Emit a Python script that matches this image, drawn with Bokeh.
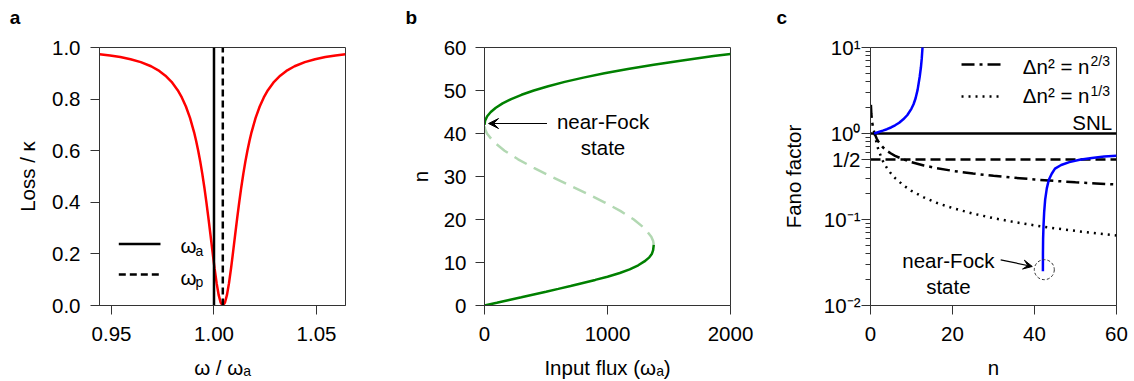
from bokeh.plotting import figure
from bokeh.layouts import row, column
from bokeh.models import Range1d, FixedTicker, Arrow, VeeHead
from bokeh.core.properties import value
from bokeh.embed import file_html
from bokeh.resources import INLINE

FONT = "Liberation Sans"
FS = "20.5px"
AX = "#333333"

# ---------------- panel letters ----------------
panel_letters = ["a", "b", "c"]

# ---------------- panel a data ----------------
omega = [0.94415, 0.9493, 0.9543, 0.9593, 0.9643, 0.9693, 0.9733, 0.9763, 0.9793, 0.9823,
         0.9843, 0.9863, 0.9883, 0.9903, 0.9913, 0.9923, 0.9933, 0.9943, 0.9953, 0.9963,
         0.9973, 0.9983, 0.9993, 1.0003, 1.0013, 1.0023, 1.0033, 1.0043,
         1.0053, 1.0063, 1.0073, 1.0083, 1.0093, 1.0103, 1.0113, 1.0123, 1.0133, 1.0143,
         1.0153, 1.0163, 1.0173, 1.0183, 1.0203, 1.0223, 1.0243, 1.0263, 1.0293, 1.0323,
         1.0353, 1.0393, 1.0443, 1.0493, 1.0543, 1.0593, 1.0641]
loss = [0.9742, 0.9692, 0.9630, 0.9547, 0.9434, 0.9273, 0.9092, 0.8909, 0.8669, 0.8345,
        0.8065, 0.7714, 0.7273, 0.6712, 0.6377, 0.6000, 0.5576, 0.5102, 0.4576, 0.4000,
        0.3379, 0.2727, 0.2066, 0.1429, 0.0857, 0.0400, 0.0103, 0.0,
        0.0103, 0.0400, 0.0857, 0.1429, 0.2066, 0.2727, 0.3379, 0.4000, 0.4576, 0.5102,
        0.5576, 0.6000, 0.6377, 0.6712, 0.7273, 0.7714, 0.8065, 0.8345, 0.8669, 0.8909,
        0.9092, 0.9273, 0.9434, 0.9547, 0.9630, 0.9692, 0.9739]
omega_a = 1.0
omega_p = 1.0043
a_xrange = (0.94415, 1.06415)
a_yrange = (0.0, 1.0)
a_xticks = [0.95, 1.0, 1.05]
a_xlabels = ["0.95", "1.00", "1.05"]
a_yticks = [0.0, 0.2, 0.4, 0.6, 0.8, 1.0]
a_ylabels = ["0.0", "0.2", "0.4", "0.6", "0.8", "1.0"]

# ---------------- panel b data ----------------
lower_flux = [0, 100, 200, 300, 400, 500, 600, 700, 800, 900, 1000, 1100, 1180, 1250,
              1300, 1340, 1360, 1371, 1376]
lower_n = [0, 0.62, 1.26, 1.9, 2.55, 3.2, 3.87, 4.55, 5.25, 5.95, 6.7, 7.55, 8.4, 9.35,
           10.25, 11.2, 11.95, 12.9, 14.1]
middle_flux = [1376, 1371, 1356, 1300, 1214, 1104, 975, 835, 688, 542, 401, 273, 163, 76, 20, 5, 0]
middle_n = [14.1, 15, 16, 18, 20, 22, 24, 26, 28, 30, 32, 34, 36, 38, 40, 41, 42]
upper_flux = [0, 5, 22, 51, 92, 147, 217, 301, 401, 518, 652, 804, 975, 1166, 1376, 1608, 1862, 2000]
upper_n = [42, 43, 44, 45, 46, 47, 48, 49, 50, 51, 52, 53, 54, 55, 56, 57, 58, 58.5]
b_xrange = (0, 2000)
b_yrange = (0, 60)
b_xticks = [0, 1000, 2000]
b_yticks = [0, 10, 20, 30, 40, 50, 60]

# ---------------- panel c data ----------------
n_dd = [0.1, 0.2, 0.4, 0.7, 1, 1.5, 2, 3, 4, 5, 6, 8, 10, 13, 16, 20, 25, 30, 35, 40, 45, 50, 55, 60]
fano_dd = [2.154, 1.710, 1.357, 1.126, 1.0, 0.874, 0.794, 0.693, 0.630, 0.585, 0.550, 0.5, 0.464,
           0.425, 0.397, 0.368, 0.342, 0.322, 0.306, 0.292, 0.281, 0.271, 0.263, 0.255]
n_dot = [1, 1.5, 2, 3, 4, 5, 6, 8, 10, 13, 16, 20, 25, 30, 35, 40, 45, 50, 55, 60]
fano_dot = [1.0, 0.763, 0.630, 0.481, 0.397, 0.342, 0.303, 0.25, 0.215, 0.181, 0.157, 0.136,
            0.117, 0.1036, 0.0935, 0.0855, 0.0790, 0.0737, 0.0692, 0.0652]
n_blue1 = [0.9, 2, 3, 4, 5, 6, 7, 8, 9, 10, 10.5, 11, 11.5, 12, 12.3, 12.5, 12.7, 12.8]
fano_blue1 = [1.0, 1.042, 1.081, 1.122, 1.175, 1.245, 1.334, 1.462, 1.641, 1.950, 2.188,
              2.570, 3.236, 4.571, 5.888, 7.413, 10.23, 12.30]
n_blue2 = [42.05, 42.06, 42.1, 42.2, 42.35, 42.6, 43.0, 43.5, 44.2, 45, 46.5, 48.5, 51, 54, 57, 60]
fano_blue2 = [0.025, 0.04, 0.06, 0.085, 0.12, 0.17, 0.23, 0.29, 0.34, 0.39, 0.43, 0.465,
              0.495, 0.52, 0.54, 0.55]
snl = 1.0
half = 0.5
c_xrange = (0, 60)
c_yrange = (0.01, 10)
c_xticks = [0, 20, 40, 60]
c_yticks = [0.01, 0.1, 0.5, 1, 10]
c_ylabels = ["10\u207b\u00b2", "10\u207b\u00b9", "1/2", "10\u2070", "10\u00b9"]
c_yminor = [0.02, 0.03, 0.04, 0.05, 0.06, 0.07, 0.08, 0.09,
            0.2, 0.3, 0.4, 0.6, 0.7, 0.8, 0.9,
            2, 3, 4, 5, 6, 7, 8, 9]

STRIP_H = 32
FIG_H = 381 - STRIP_H


def style(p):
    p.grid.visible = False
    p.outline_line_color = AX
    p.outline_line_width = 1
    p.outline_line_alpha = 1
    p.background_fill_color = "white"
    p.border_fill_color = "white"
    for ax in p.axis:
        ax.axis_line_color = AX
        ax.axis_line_width = 1
        ax.major_tick_line_color = AX
        ax.major_tick_line_width = 1
        ax.major_tick_in = 0
        ax.major_tick_out = 9
        ax.minor_tick_line_color = None
        ax.major_label_text_font = FONT
        ax.major_label_text_font_size = FS
        ax.major_label_text_color = "black"
        ax.axis_label_text_font = FONT
        ax.axis_label_text_font_size = FS
        ax.axis_label_text_font_style = "normal"
        ax.axis_label_text_color = "black"
    p.xaxis.major_label_standoff = 12
    p.xaxis.axis_label_standoff = 12


def txt(p, x, y, s, size=FS, align="left", baseline="middle", style="normal"):
    p.text(x=[x], y=[y], text=[s], text_font=value(FONT), text_font_size=size,
           text_font_style=style, text_align=align, text_baseline=baseline, text_color="black")


# ================= strip with panel letters =================
strip = figure(width=1134, height=STRIP_H, output_backend="svg", toolbar_location=None,
               x_range=Range1d(0, 1134), y_range=Range1d(0, STRIP_H),
               min_border_left=0, min_border_right=0, min_border_top=0, min_border_bottom=0)
strip.axis.visible = False
strip.grid.visible = False
strip.outline_line_color = None
strip.background_fill_color = "white"
strip.border_fill_color = "white"
for lx, s in zip([9.3, 405, 776], panel_letters):
    txt(strip, lx, STRIP_H - 16.5, s, size="19px", baseline="middle", style="bold")

# ================= panel a =================
MB = dict(min_border_top=47 - STRIP_H, min_border_bottom=75)
pa = figure(width=378, height=FIG_H, output_backend="svg", toolbar_location=None,
            x_range=Range1d(*a_xrange), y_range=Range1d(*a_yrange),
            min_border_left=99, min_border_right=33, **MB)
style(pa)
pa.line(omega, loss, line_color="#ff0000", line_width=2.5)
pa.line([omega_a, omega_a], list(a_yrange), line_color="black", line_width=2.5)
pa.line([omega_p, omega_p], list(a_yrange), line_color="black", line_width=2.5, line_dash="7 4")
pa.xaxis.ticker = FixedTicker(ticks=a_xticks)
pa.xaxis.major_label_overrides = dict(zip(a_xticks, a_xlabels))
pa.yaxis.ticker = FixedTicker(ticks=a_yticks)
pa.yaxis.major_label_overrides = dict(zip(a_yticks, a_ylabels))
pa.xaxis.axis_label = "\u03c9 / \u03c9\u2090"
pa.yaxis.axis_label = "Loss / \u03ba"
pa.yaxis.major_label_standoff = 10
pa.yaxis.axis_label_standoff = 10
# legend (manual)
pa.line([0.95356, 0.97390], [0.238, 0.238], line_color="black", line_width=2.5)
pa.line([0.95356, 0.97390], [0.1197, 0.1197], line_color="black", line_width=2.5, line_dash="7 4")
txt(pa, 0.98366, 0.2324, "\u03c9")
txt(pa, 0.99098, 0.2097, "a", size="14px")
txt(pa, 0.98366, 0.110, "\u03c9")
txt(pa, 0.99098, 0.0907, "p", size="14px")

# ================= panel b =================
pb = figure(width=378, height=FIG_H, output_backend="svg", toolbar_location=None,
            x_range=Range1d(*b_xrange), y_range=Range1d(*b_yrange),
            min_border_left=106, min_border_right=26, **MB)
style(pb)
pb.line(middle_flux, middle_n, line_color="#b2d8b2", line_width=2.5, line_dash="14 8")
pb.line(lower_flux, lower_n, line_color="#008000", line_width=2.5)
pb.line(upper_flux, upper_n, line_color="#008000", line_width=2.5)
pb.xaxis.ticker = FixedTicker(ticks=b_xticks)
pb.yaxis.ticker = FixedTicker(ticks=b_yticks)
pb.xaxis.axis_label = "Input flux (\u03c9\u2090)"
pb.yaxis.axis_label = "n"
pb.yaxis.major_label_standoff = 9
pb.yaxis.axis_label_standoff = 9
pb.add_layout(Arrow(end=VeeHead(size=10, fill_color="black", line_color="black"),
                    x_start=508, y_start=42.32, x_end=33, y_end=42.32,
                    line_color="black", line_width=1.2))
txt(pb, 963.8, 42.8, "near-Fock", align="center")
txt(pb, 963.8, 36.7, "state", align="center")

# ================= panel c =================
pc = figure(width=378, height=FIG_H, output_backend="svg", toolbar_location=None,
            y_axis_type="log",
            x_range=Range1d(*c_xrange), y_range=Range1d(*c_yrange),
            min_border_left=114, min_border_right=18, **MB)
style(pc)
pc.line(list(c_xrange), [snl, snl], line_color="black", line_width=2.5)
pc.line(list(c_xrange), [half, half], line_color="black", line_width=2.5, line_dash="10 5")
pc.line(n_dd, fano_dd, line_color="black", line_width=2.5, line_dash="13 5 3 5")
pc.line(n_dot, fano_dot, line_color="black", line_width=2.5, line_dash="2 5")
pc.line(n_blue1, fano_blue1, line_color="#0000ff", line_width=2.5)
pc.line(n_blue2, fano_blue2, line_color="#0000ff", line_width=2.5)
pc.xaxis.ticker = FixedTicker(ticks=c_xticks)
pc.yaxis.ticker = FixedTicker(ticks=c_yticks, minor_ticks=c_yminor)
pc.yaxis.major_label_overrides = dict(zip(c_yticks, c_ylabels))
pc.yaxis.minor_tick_line_color = AX
pc.yaxis.minor_tick_in = 0
pc.yaxis.minor_tick_out = 5
pc.xaxis.axis_label = "n"
pc.yaxis.axis_label = "Fano factor"
pc.yaxis.major_label_standoff = 1
pc.yaxis.axis_label_standoff = 16
# legend (manual)
pc.line([22.2, 32.2], [6.36, 6.36], line_color="black", line_width=2.5, line_dash="13 5 3 5")
pc.line([22.2, 32.2], [2.70, 2.70], line_color="black", line_width=2.5, line_dash="2 5")
txt(pc, 53.42, 6.03, "\u0394n\u00b2 = n", align="right")
txt(pc, 53.67, 6.88, "2/3", size="14px")
txt(pc, 53.42, 2.74, "\u0394n\u00b2 = n", align="right")
txt(pc, 53.67, 3.09, "1/3", size="14px")
txt(pc, 58.95, 1.334, "SNL", align="right")
txt(pc, 19.0, 0.0331, "near-Fock", align="center")
txt(pc, 19.0, 0.01655, "state", align="center")
pc.add_layout(Arrow(end=VeeHead(size=9, fill_color="black", line_color="black"),
                    x_start=31.75, y_start=0.0340, x_end=39.46, y_end=0.02843,
                    line_color="black", line_width=1.2))
pc.scatter([42.39], [0.0261], size=20, marker="circle", fill_color=None,
           line_color="#333333", line_width=1, line_dash="3 2")

layout = column(strip, row(pa, pb, pc))
open("out.html", "w").write(file_html(layout, INLINE))
